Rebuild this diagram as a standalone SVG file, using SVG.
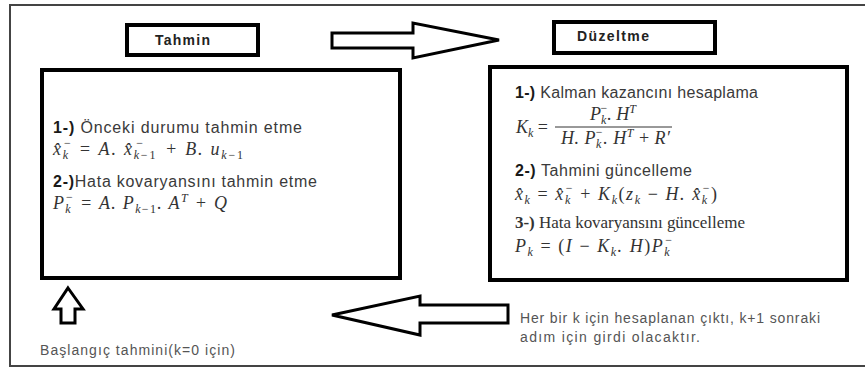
<svg xmlns="http://www.w3.org/2000/svg" width="865" height="369" viewBox="0 0 865 369">
<style>
.box{fill:#fff;stroke:#000;stroke-width:4}
.arr{fill:#fff;stroke:#000;stroke-width:3;stroke-linejoin:miter}
.t{font-family:"Liberation Sans",Arial,sans-serif;font-size:16px;fill:#3a3a3a}
.b{font-weight:bold;fill:#1a1a1a}
.h{font-family:"Liberation Sans",Arial,sans-serif;font-size:14px;font-weight:bold;fill:#222}
.m{font-family:"Liberation Serif","Times New Roman",serif;font-style:italic;font-size:18px;fill:#333}
.r{font-style:normal}
.s{font-size:12px}
.ts{font-family:"Liberation Serif","Times New Roman",serif;font-size:17px;fill:#333}
.g{font-family:"Liberation Sans",Arial,sans-serif;font-size:14px;fill:#555}
</style>
<rect x="10" y="5" width="860" height="361" fill="#fff" stroke="#444" stroke-width="2"/>
<g id="connectors">
<path class="arr" d="M332,33 H413 V23 L499,40 L413,58 V48 H332 Z"/>
<path class="arr" d="M508,305 H420 V296 L332,315 L420,335 V323 H508 Z"/>
<path class="arr" d="M68,288 L83,309 H75 V323 H61 V309 H54 Z"/>
</g>
<g id="tahmin">
<rect class="box" x="127" y="25" width="131" height="30"/>
<text class="h" x="155" y="45" textLength="55">Tahmin</text>
</g>
<g id="duzeltme">
<rect class="box" x="554" y="22" width="161" height="31"/>
<text class="h" x="577" y="41" textLength="72">Düzeltme</text>
</g>
<g id="tahmin-adimlari">
<rect class="box" x="42" y="70" width="358" height="208"/>
<text class="t" x="53" y="133" textLength="249"><tspan class="b">1-)</tspan> Önceki durumu tahmin etme</text>
<text class="m" x="53" y="155" textLength="190">x̂<tspan class="s" dy="4">k</tspan><tspan class="s r" dx="-6" dy="-12">−</tspan><tspan dy="8"> = A. x̂</tspan><tspan class="s" dy="4">k<tspan class="r">−1</tspan></tspan><tspan class="s r" dx="-21" dy="-12">−</tspan><tspan dx="14" dy="8"> + B. u</tspan><tspan class="s" dy="4">k<tspan class="r">−1</tspan></tspan></text>
<text class="t" x="53" y="187" textLength="264"><tspan class="b">2-)</tspan>Hata kovaryansını tahmin etme</text>
<text class="m" x="53" y="209" textLength="174">P<tspan class="s" dy="4">k</tspan><tspan class="s r" dx="-6" dy="-12">−</tspan><tspan dy="8"> = A. P</tspan><tspan class="s" dy="4">k<tspan class="r">−1</tspan></tspan><tspan dy="-4">. A</tspan><tspan class="s" dy="-7">T</tspan><tspan dy="7"> + Q</tspan></text>
</g>
<g id="duzeltme-adimlari">
<rect class="box" x="490" y="67" width="357" height="213"/>
<text class="t" x="515" y="98" textLength="243"><tspan class="b">1-)</tspan> Kalman kazancını  hesaplama</text>
<text class="m" x="516" y="133">K<tspan class="s" dy="4">k</tspan><tspan dy="-4" class="r"> =</tspan></text>
<line x1="555" y1="127" x2="672" y2="127" stroke="#333" stroke-width="1"/>
<text class="m" x="590" y="120" textLength="46">P<tspan class="s" dy="4">k</tspan><tspan class="s r" dx="-6" dy="-12">−</tspan><tspan dy="8">. H</tspan><tspan class="s" dy="-7">T</tspan></text>
<text class="m" x="561" y="144" textLength="109">H. P<tspan class="s" dy="4">k</tspan><tspan class="s r" dx="-6" dy="-12">−</tspan><tspan dy="8">. H</tspan><tspan class="s" dy="-7">T</tspan><tspan dy="7" class="r"> + </tspan>R′</text>
<text class="t" x="515" y="176" textLength="177"><tspan class="b">2-)</tspan> Tahmini güncelleme</text>
<text class="m" x="515" y="200" textLength="202">x̂<tspan class="s" dy="4">k</tspan><tspan dy="-4" class="r"> = </tspan>x̂<tspan class="s" dy="4">k</tspan><tspan class="s r" dx="-6" dy="-12">−</tspan><tspan dy="8" class="r"> + </tspan>K<tspan class="s" dy="4">k</tspan><tspan dy="-4" class="r">(</tspan>z<tspan class="s" dy="4">k</tspan><tspan dy="-4" class="r"> − </tspan>H. x̂<tspan class="s" dy="4">k</tspan><tspan class="s r" dx="-6" dy="-12">−</tspan><tspan dy="8" class="r">)</tspan></text>
<text class="ts" x="515" y="228" textLength="230"><tspan font-weight="bold">3-)</tspan> Hata kovaryansını güncelleme</text>
<text class="m" x="515" y="252" textLength="157">P<tspan class="s" dy="4">k</tspan><tspan dy="-4" class="r"> = (</tspan>I<tspan class="r"> − </tspan>K<tspan class="s" dy="4">k</tspan><tspan dy="-4">. H</tspan><tspan class="r">)</tspan>P<tspan class="s" dy="4">k</tspan><tspan class="s r" dx="-6" dy="-12">−</tspan></text>
</g>
<g id="baslangic">
<text class="g" x="40" y="355" textLength="195">Başlangıç tahmini(k=0 için)</text>
</g>
<g id="not">
<text class="g" x="520" y="323" textLength="300">Her bir k için hesaplanan çıktı, k+1 sonraki</text>
<text class="g" x="520" y="342" textLength="180">adım için girdi olacaktır.</text>
</g>
</svg>
